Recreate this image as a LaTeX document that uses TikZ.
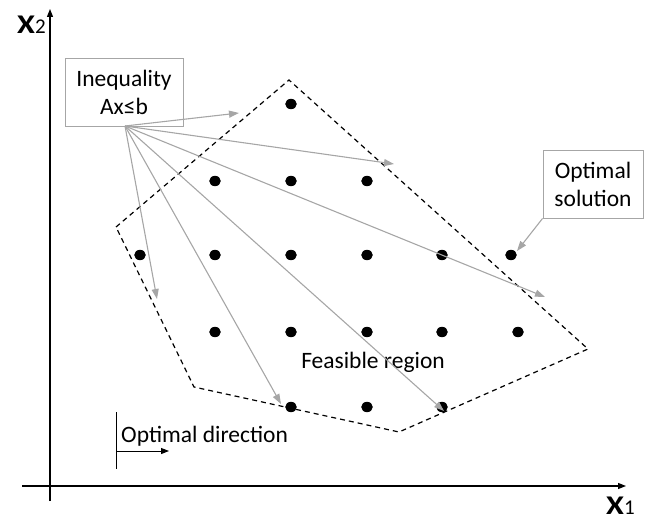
\documentclass[tikz,border=0pt]{standalone}
\usepackage{fontspec}
\setmainfont{Carlito}
\usetikzlibrary{arrows.meta}
\definecolor{fan}{HTML}{A6A6A6}
\begin{document}
\begin{tikzpicture}[x=1pt,y=-1pt,
  lbl/.style={font=\fontsize{23.5}{28}\selectfont, inner sep=0pt},
  infobox/.style={draw=fan, line width=0.9pt, align=center, inner sep=0pt,
    font=\fontsize{23.5}{28}\selectfont},
  axis/.style={line width=1.3pt, -{Triangle[length=8pt,width=6pt]}},
  fanarrow/.style={draw=fan, line width=1.1pt, -{Triangle[length=10pt,width=7pt]}},
  boundary/.style={draw=black, line width=1.2pt, dash pattern=on 5pt off 4pt},
  axlbl/.style={inner sep=0pt, anchor=base west}]
\useasboundingbox (0,0) rectangle (650,521);

% axes
\coordinate (xo) at (22,486);
\coordinate (xe) at (626,486);
\coordinate (yo) at (50,501);
\coordinate (ye) at (50,9);
\draw[axis] (xo) -- (xe);
\draw[axis] (yo) -- (ye);
\node[axlbl] (xtwo) at (17,34) {\scalebox{1.2}[1]{\fontsize{27}{28}\selectfont\bfseries X}{\fontsize{21}{22}\selectfont 2}};
\node[axlbl] (xone) at (606,514) {\scalebox{1.2}[1]{\fontsize{27}{28}\selectfont\bfseries X}{\fontsize{21}{22}\selectfont 1}};

% feasible region boundary
\coordinate (pl) at (116,227);
\coordinate (pt) at (289,80);
\coordinate (pr) at (588,349);
\coordinate (pb) at (399,432);
\coordinate (pbl) at (194,387);
\draw[boundary] (pl) -- (pt) -- (pr) -- (pb) -- (pbl) -- cycle;

% integer points
\foreach \px/\py in {291/104,
  215/181, 291/181, 367/181,
  140/255, 215/255, 291/255, 367/255, 442/255, 511/255,
  215/332, 291/332, 367/332, 442/332, 518/332,
  291/407, 367/407, 442/407}
  \fill (\px,\py) ellipse [x radius=5.8pt, y radius=5.2pt];

% labels and boxes
\node[infobox, minimum width=118pt, minimum height=68pt] (ineq) at (124,92) {Inequality\\Ax≤b};
\node[infobox, minimum width=100pt, minimum height=68pt] (opt) at (593,184) {Optimal\\solution};
\node[lbl, anchor=base] (feas) at (373,368) {Feasible region};
\node[lbl, anchor=base west] (dirlbl) at (121,442) {Optimal direction};

% constraint normals fanning out of the inequality box
\coordinate (fo) at (125,126);
\coordinate (f1) at (239,113);
\coordinate (f2) at (394,164);
\coordinate (f3) at (545,297);
\coordinate (f4) at (444,411);
\coordinate (f5) at (281,404);
\coordinate (f6) at (157,299);
\foreach \t in {f1,f2,f3,f4,f5,f6}
  \draw[fanarrow] (fo) -- (\t);

% pointer to the optimal point
\coordinate (os) at (517,251);
\draw[fanarrow] (opt.south west) -- (os);

% optimal direction marker
\coordinate (dtop) at (116,412);
\coordinate (dbot) at (116,469);
\coordinate (dmid) at (116,451);
\coordinate (dend) at (169,451);
\draw[line width=0.8pt] (dtop) -- (dbot);
\draw[line width=1pt, -{Triangle[length=8pt,width=6pt]}] (dmid) -- (dend);
\end{tikzpicture}
\end{document}
